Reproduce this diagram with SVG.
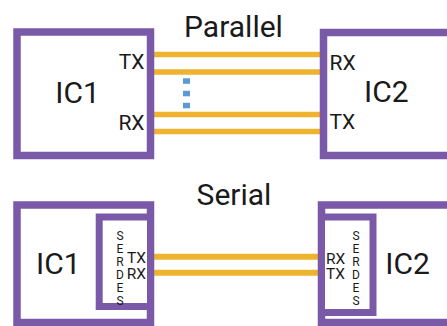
<svg xmlns="http://www.w3.org/2000/svg" width="447" height="326" viewBox="0 0 447 326">
<style>
.box{fill:#ffffff;stroke:#7a59a9;stroke-width:7.5}
.inner{fill:#ffffff;stroke:#7a59a9;stroke-width:7}
.wire{stroke:#eeb32f;stroke-width:5.5;fill:none}
.wire2{stroke:#eeb32f;stroke-width:6;fill:none}
.dot{fill:#5b9bd5}
text{font-family:Roboto,"Liberation Sans",Arial,sans-serif;fill:#1a1a1a}
.title{font-size:30px;text-anchor:middle}
.ic{font-size:30px;text-anchor:middle}
.pin{font-size:21px}
.pin2{font-size:15.5px}
.sd{font-size:12px;text-anchor:middle}
</style>
<rect width="447" height="326" fill="#ffffff"/>
<g id="connectors">
<line class="wire" x1="154" y1="54.5" x2="321" y2="54.5"/>
<line class="wire" x1="154" y1="72" x2="321" y2="72"/>
<line class="wire" x1="154" y1="114.5" x2="321" y2="114.5"/>
<line class="wire" x1="154" y1="131.5" x2="321" y2="131.5"/>
<rect class="dot" x="183" y="78.3" width="7" height="5.5"/>
<rect class="dot" x="183" y="90.8" width="7" height="5.5"/>
<rect class="dot" x="183" y="102.8" width="7" height="5.5"/>
<line class="wire2" x1="154" y1="256.7" x2="319" y2="256.7"/>
<line class="wire2" x1="154" y1="272.7" x2="319" y2="272.7"/>
</g>
<text class="title" x="233.5" y="36.7">Parallel</text>
<text class="title" x="234" y="204.7">Serial</text>
<g id="ic1-parallel">
<rect class="box" x="17" y="32" width="133.5" height="123.5"/>
<text class="ic" x="77.5" y="103.3">IC1</text>
<text class="pin" x="144.5" y="69.3" text-anchor="end">TX</text>
<text class="pin" x="144.5" y="130" text-anchor="end">RX</text>
</g>
<g id="ic2-parallel">
<rect class="box" x="323.5" y="32.5" width="140" height="123"/>
<text class="ic" x="386.3" y="102">IC2</text>
<text class="pin" x="329.5" y="70">RX</text>
<text class="pin" x="329.5" y="128.5">TX</text>
</g>
<g id="ic1-serial">
<rect class="box" x="17" y="205" width="133.5" height="117.5"/>
<rect class="inner" x="99.2" y="217" width="51.3" height="89.5"/>
<text class="ic" x="58.3" y="274">IC1</text>
<text class="sd" x="120"><tspan x="120" y="239.5">S</tspan><tspan x="120" y="252.6">E</tspan><tspan x="120" y="265.7">R</tspan><tspan x="120" y="278.8">D</tspan><tspan x="120" y="291.9">E</tspan><tspan x="120" y="305">S</tspan></text>
<text class="pin2" x="146" y="263.3" text-anchor="end">TX</text>
<text class="pin2" x="146" y="279" text-anchor="end">RX</text>
</g>
<g id="ic2-serial">
<rect class="box" x="321.5" y="205" width="140" height="117.5"/>
<rect class="inner" x="321.5" y="217" width="51.5" height="95.5"/>
<text class="ic" x="407.5" y="274">IC2</text>
<text class="sd" x="356"><tspan x="356" y="239.5">S</tspan><tspan x="356" y="252.6">E</tspan><tspan x="356" y="265.7">R</tspan><tspan x="356" y="278.8">D</tspan><tspan x="356" y="291.9">E</tspan><tspan x="356" y="305">S</tspan></text>
<text class="pin2" x="326" y="264">RX</text>
<text class="pin2" x="326" y="279">TX</text>
</g>
</svg>
